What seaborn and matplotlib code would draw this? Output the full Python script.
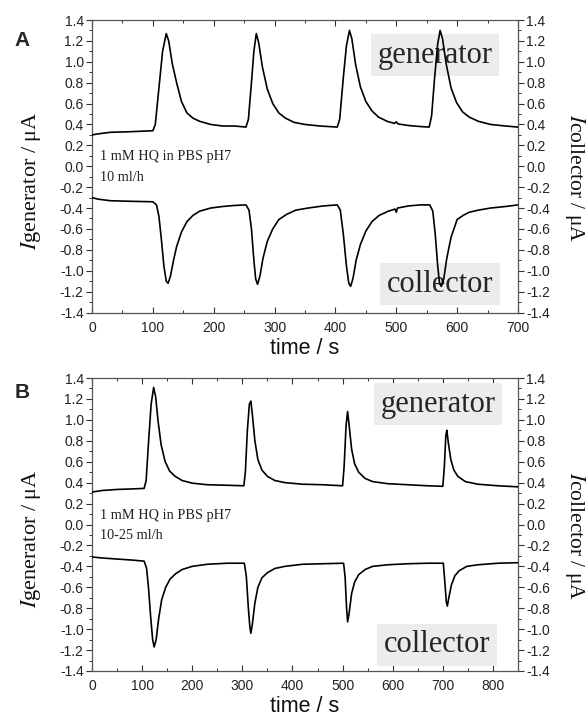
import numpy as np
import pandas as pd
import matplotlib
matplotlib.use("Agg")
import matplotlib.pyplot as plt
import seaborn as sns
from matplotlib.ticker import MultipleLocator

sns.set_style("ticks")
plt.rcParams['font.family'] = ['Liberation Sans', 'DejaVu Sans']

# ---------------- data ----------------
tA_gen = [0, 10, 30, 60, 100, 104, 110, 116, 122, 126, 132, 139, 147, 156, 166, 177, 195, 215, 235, 253,
          257, 262, 266, 270, 274, 280, 288, 297, 307, 318, 332, 350, 375, 403,
          407, 413, 418, 423, 427, 433, 441, 450, 460, 471, 485, 497, 500, 503, 520, 540, 554,
          558, 563, 568, 572, 576, 582, 590, 599, 609, 620, 635, 655, 680, 700]
iA_gen = [0.30, 0.31, 0.325, 0.33, 0.34, 0.40, 0.75, 1.10, 1.27, 1.20, 0.98, 0.80, 0.62, 0.51, 0.46, 0.43, 0.40, 0.385, 0.385, 0.375,
          0.45, 0.80, 1.10, 1.27, 1.18, 0.95, 0.74, 0.60, 0.51, 0.46, 0.42, 0.40, 0.385, 0.375,
          0.45, 0.85, 1.15, 1.30, 1.22, 0.98, 0.76, 0.62, 0.53, 0.47, 0.43, 0.41, 0.425, 0.405, 0.39, 0.38, 0.375,
          0.48, 0.85, 1.17, 1.30, 1.22, 0.98, 0.75, 0.61, 0.52, 0.47, 0.43, 0.40, 0.385, 0.375]

tA_col = [0, 10, 30, 60, 100, 106, 110, 114, 118, 122, 125, 129, 134, 139, 147, 156, 166, 177, 195, 215, 235, 253,
          258, 262, 266, 269, 272, 276, 281, 288, 297, 307, 320, 335, 355, 380, 403,
          408, 413, 418, 422, 425, 429, 434, 441, 450, 460, 472, 487, 498, 500, 502, 520, 540, 555,
          560, 564, 568, 571, 574, 578, 583, 590, 600, 610, 620, 635, 655, 680, 700]
iA_col = [-0.30, -0.315, -0.33, -0.335, -0.34, -0.37, -0.48, -0.70, -0.95, -1.10, -1.12, -1.05, -0.90, -0.77, -0.63, -0.53, -0.47, -0.43, -0.40, -0.385, -0.375, -0.37,
          -0.42, -0.60, -0.90, -1.08, -1.13, -1.05, -0.88, -0.72, -0.60, -0.51, -0.46, -0.42, -0.40, -0.38, -0.37,
          -0.42, -0.65, -0.95, -1.12, -1.15, -1.07, -0.90, -0.75, -0.62, -0.53, -0.47, -0.43, -0.41, -0.44, -0.40, -0.38, -0.37, -0.37,
          -0.43, -0.65, -0.95, -1.12, -1.15, -1.08, -0.88, -0.68, -0.51, -0.47, -0.44, -0.42, -0.40, -0.385, -0.37]

tB_gen = [0, 20, 50, 80, 104, 108, 113, 118, 123, 127, 132, 138, 146, 155, 166, 180, 200, 230, 270, 303,
          306, 310, 314, 317, 320, 325, 331, 339, 350, 365, 385, 420, 460, 500,
          503, 507, 510, 513, 518, 524, 532, 545, 560, 590, 630, 670, 700,
          703, 706, 708, 711, 716, 722, 730, 745, 770, 810, 850]
iB_gen = [0.31, 0.325, 0.335, 0.34, 0.345, 0.42, 0.80, 1.15, 1.31, 1.22, 0.98, 0.76, 0.60, 0.51, 0.46, 0.42, 0.395, 0.38, 0.375, 0.37,
          0.50, 0.90, 1.15, 1.18, 1.05, 0.80, 0.62, 0.52, 0.46, 0.42, 0.40, 0.385, 0.38, 0.37,
          0.55, 0.95, 1.08, 0.95, 0.72, 0.58, 0.50, 0.44, 0.41, 0.39, 0.38, 0.37, 0.365,
          0.55, 0.85, 0.90, 0.78, 0.62, 0.52, 0.46, 0.41, 0.385, 0.37, 0.36]

tB_col = [0, 20, 50, 80, 104, 109, 113, 117, 121, 124, 128, 133, 139, 147, 156, 167, 180, 200, 230, 270, 304,
          308, 312, 315, 317, 320, 325, 331, 339, 350, 365, 385, 420, 460, 502,
          505, 508, 510, 513, 518, 524, 532, 545, 560, 590, 630, 670, 701,
          704, 707, 709, 712, 717, 724, 733, 748, 770, 810, 850]
iB_col = [-0.31, -0.32, -0.33, -0.34, -0.35, -0.42, -0.62, -0.88, -1.10, -1.17, -1.10, -0.90, -0.72, -0.60, -0.52, -0.47, -0.43, -0.40, -0.38, -0.37, -0.37,
          -0.50, -0.80, -0.98, -1.04, -0.95, -0.75, -0.60, -0.51, -0.46, -0.42, -0.40, -0.38, -0.375, -0.37,
          -0.50, -0.80, -0.93, -0.85, -0.66, -0.55, -0.48, -0.43, -0.40, -0.385, -0.375, -0.37, -0.37,
          -0.55, -0.74, -0.78, -0.70, -0.58, -0.49, -0.44, -0.40, -0.385, -0.37, -0.365]

y_ticks = [-1.4, -1.2, -1.0, -0.8, -0.6, -0.4, -0.2, 0.0, 0.2, 0.4, 0.6, 0.8, 1.0, 1.2, 1.4]
xA_ticks = [0, 100, 200, 300, 400, 500, 600, 700]
xB_ticks = [0, 100, 200, 300, 400, 500, 600, 700, 800]
note_A = ["1 mM HQ in PBS pH7", "10 ml/h"]
note_B = ["1 mM HQ in PBS pH7", "10-25 ml/h"]

# ---------------- figure ----------------
W, H = 588, 718
fig = plt.figure(figsize=(W / 100, H / 100), dpi=100)

def frame(px_left, px_top, px_right, px_bottom):
    return [px_left / W, 1 - px_bottom / H, (px_right - px_left) / W, (px_bottom - px_top) / H]

axA = fig.add_axes(frame(92, 20, 518, 312.5))
axB = fig.add_axes(frame(92, 378, 518, 671))

serif = ['Liberation Serif', 'DejaVu Serif']
tick_col = '#333333'

def style(ax, xmax, xticks, note):
    ax.set_xlim(0, xmax)
    ax.set_ylim(-1.4, 1.4)
    ax.set_xticks(xticks)
    ax.set_yticks(y_ticks)
    ax.set_yticklabels([f"{v:.1f}" for v in y_ticks])
    ax.xaxis.set_minor_locator(MultipleLocator(50))
    ax.yaxis.set_minor_locator(MultipleLocator(0.1))
    ax.tick_params(axis='x', which='both', direction='in', top=True, bottom=True,
                   labelsize=10, colors=tick_col, labelcolor='#222222')
    ax.tick_params(axis='x', which='major', length=4, width=0.8, pad=6)
    ax.tick_params(axis='x', which='minor', length=2.5, width=0.7)
    ax.tick_params(axis='y', which='both', direction='out', left=True, right=True,
                   labelleft=True, labelright=True, labelsize=10, colors=tick_col,
                   labelcolor='#222222')
    ax.tick_params(axis='y', which='major', length=4, width=0.8, pad=2)
    ax.tick_params(axis='y', which='minor', length=2.5, width=0.7)
    for s in ax.spines.values():
        s.set_color('#555555')
        s.set_linewidth(0.9)
    ax.set_xlabel('')
    ax.set_ylabel('')
    ax.text(0.019, 0.532, note[0], transform=ax.transAxes, family=serif, fontsize=10.3,
            ha='left', va='center', color='#222222')
    ax.text(0.019, 0.462, note[1], transform=ax.transAxes, family=serif, fontsize=10.3,
            ha='left', va='center', color='#222222')
    box = dict(boxstyle='square,pad=0.22', facecolor='#ececec', edgecolor='none')
    return box

sns.lineplot(x=tA_gen, y=iA_gen, ax=axA, color='black', lw=1.2, estimator=None, sort=False)
sns.lineplot(x=tA_col, y=iA_col, ax=axA, color='black', lw=1.2, estimator=None, sort=False)
sns.lineplot(x=tB_gen, y=iB_gen, ax=axB, color='black', lw=1.2, estimator=None, sort=False)
sns.lineplot(x=tB_col, y=iB_col, ax=axB, color='black', lw=1.2, estimator=None, sort=False)

boxA = style(axA, 700, xA_ticks, note_A)
boxB = style(axB, 850, xB_ticks, note_B)

axA.text(0.805, 0.880, 'generator', transform=axA.transAxes, family=serif, fontsize=22,
         ha='center', va='center', bbox=boxA, zorder=1)
axA.text(0.817, 0.097, 'collector', transform=axA.transAxes, family=serif, fontsize=22,
         ha='center', va='center', bbox=boxA, zorder=1)
axB.text(0.812, 0.911, 'generator', transform=axB.transAxes, family=serif, fontsize=22,
         ha='center', va='center', bbox=boxB, zorder=1)
axB.text(0.810, 0.089, 'collector', transform=axB.transAxes, family=serif, fontsize=22,
         ha='center', va='center', bbox=boxB, zorder=1)

for line in axA.lines + axB.lines:
    line.set_zorder(3)

# axis titles
for ytop in (0, 358):
    fig.text(305 / W, 1 - (349 + ytop) / H, 'time / s', ha='center', va='center',
             fontsize=15.5, color='#111111')
    fig.text(31 / W, 1 - (181 + ytop) / H, r'$\mathit{I}$generator / μA', rotation=90,
             ha='center', va='center', fontsize=16, family=serif, color='#111111',
             math_fontfamily='stix')
    fig.text(575 / W, 1 - (178 + ytop) / H, r'$\mathit{I}$collector / μA', rotation=270,
             ha='center', va='center', fontsize=15.5, family=serif, color='#111111',
             math_fontfamily='stix')

fig.text(22 / W, 1 - 40 / H, 'A', fontsize=15, fontweight='bold', ha='center', va='center')
fig.text(22 / W, 1 - 393 / H, 'B', fontsize=15, fontweight='bold', ha='center', va='center')

fig.savefig('out.png', dpi=100)
